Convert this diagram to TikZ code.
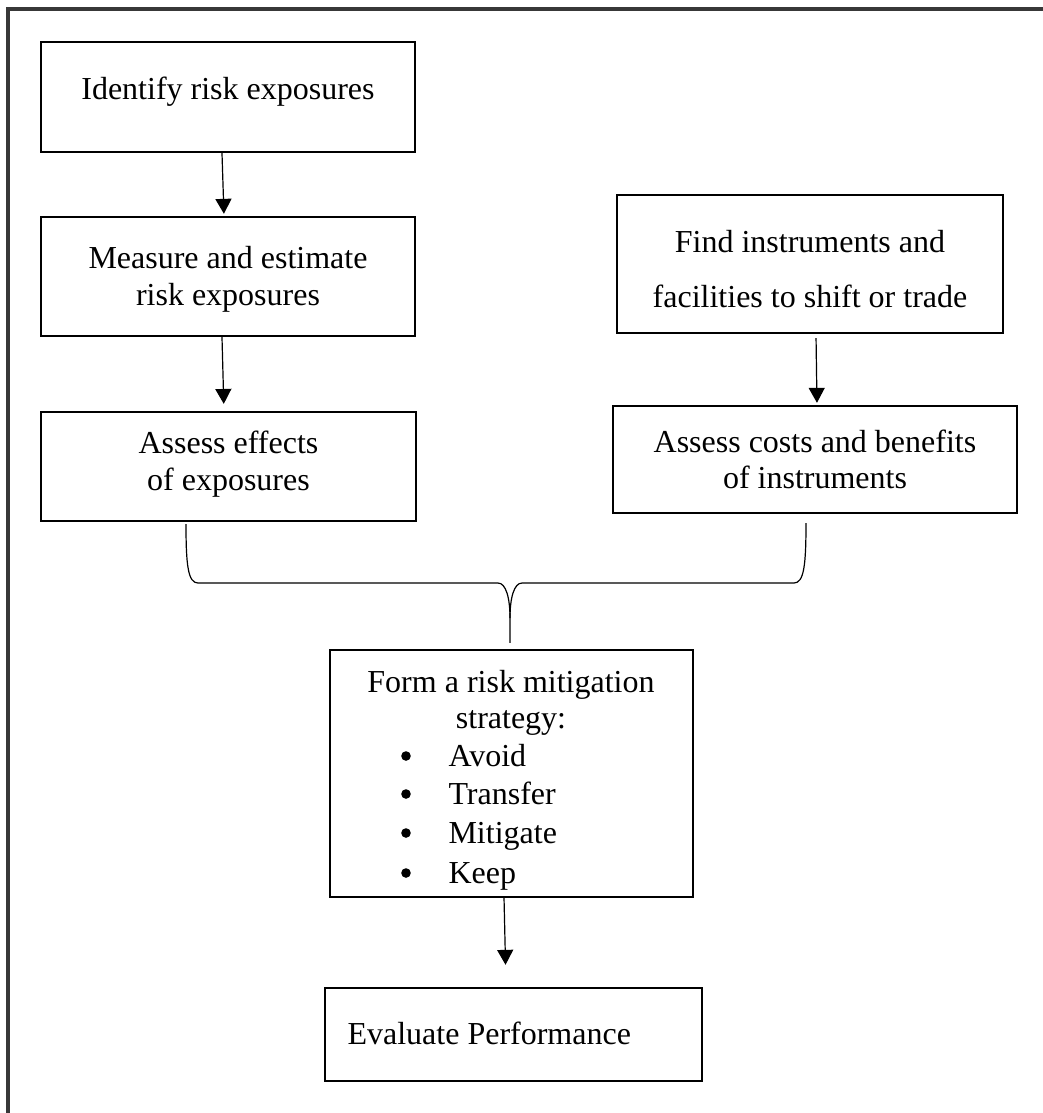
\documentclass[tikz,border=0pt]{standalone}
\usepackage{fontspec}
\setmainfont{Liberation Serif}
\usetikzlibrary{arrows.meta,calc}
\begin{document}
\begin{tikzpicture}[x=0.375pt,y=-0.375pt,
  box/.style={draw=black, line width=0.9pt, inner sep=0pt, fill=none},
  txt/.style={anchor=base, inner sep=0pt, font=\fontsize{12pt}{14pt}\selectfont},
  bul/.style={circle, fill=black, inner sep=0pt, minimum size=3.6pt},
  arr/.style={line width=0.45pt, -{Triangle[length=5.6pt,width=6pt]}},
  bracestyle/.style={line width=0.45pt},
  framestyle/.style={line width=1.2pt, draw=black!78}]
\useasboundingbox (0,0) rectangle (1043,1113);
% outer frame
\draw[framestyle] (8,1113) -- (8,9) -- (1043,9);
% boxes
\node[box, minimum width=140.25pt, minimum height=41.25pt] (b1) at (228,97) {};
\node[box, minimum width=140.25pt, minimum height=44.625pt] (b2) at (228,276.5) {};
\node[box, minimum width=140.625pt, minimum height=40.875pt] (b3) at (228.5,466.5) {};
\node[box, minimum width=144.75pt, minimum height=51.75pt] (b4) at (810,264) {};
\node[box, minimum width=151.5pt, minimum height=40.125pt] (b5) at (815,459.5) {};
\node[box, minimum width=136.125pt, minimum height=92.625pt] (b6) at (511.5,773.5) {};
\node[box, minimum width=141.375pt, minimum height=34.875pt] (b7) at (513.5,1034.5) {};
% texts
\node[txt] (t1) at (228,99) {Identify risk exposures};
\node[txt] (t2a) at (228,268) {Measure and estimate};
\node[txt] (t2b) at (228,305) {risk exposures};
\node[txt] (t3a) at (228.5,453) {Assess effects};
\node[txt] (t3b) at (228.5,490) {of exposures};
\node[txt] (t4a) at (810,252) {Find instruments and};
\node[txt] (t4b) at (810,307) {facilities to shift or trade};
\node[txt] (t5a) at (815,452) {Assess costs and benefits};
\node[txt] (t5b) at (815,488) {of instruments};
\node[txt] (t6a) at (511,692) {Form a risk mitigation};
\node[txt] (t6b) at (511,728) {strategy:};
\node[bul] (u1) at (406,756) {};
\node[bul] (u2) at (406,794) {};
\node[bul] (u3) at (406,833) {};
\node[bul] (u4) at (406,873) {};
\node[txt, anchor=base west] (l1) at (448,766) {Avoid};
\node[txt, anchor=base west] (l2) at (448,804) {Transfer};
\node[txt, anchor=base west] (l3) at (448,843) {Mitigate};
\node[txt, anchor=base west] (l4) at (448,883) {Keep};
\node[txt, anchor=base west] (t7) at (347,1044) {Evaluate Performance};
% arrows
\draw[arr, shorten >=0.75pt] ([xshift=-2.25pt]b1.south) -- ([xshift=-1.5pt]b2.north);
\draw[arr, shorten >=2.6pt] ([xshift=-2.25pt]b2.south) -- ([xshift=-1.7pt]b3.north);
\draw[arr, shorten <=1.5pt, shorten >=0.75pt] ([xshift=2.25pt]b4.south) -- ([xshift=0.75pt]b5.north);
\draw[arr, shorten >=8.25pt] ([xshift=-2.8pt]b6.south) -- ([xshift=-2.8pt]b7.north);
% brace joining the two branches
\coordinate (bl) at ($(b3.south)+(-42.5,2)$);
\coordinate (br) at ($(b5.south)+(-9,9)$);
\coordinate (bt) at ($(b6.north)+(-1.5,-6)$);
\coordinate (bm) at (510,618);
\draw[bracestyle] (bl) .. controls (186,565) and (188,583) .. (198,583) -- (498,583)
  .. controls (506,583) and (510,598) .. (bm) -- (bt);
\draw[bracestyle] (br) .. controls (806,565) and (804,583) .. (794,583) -- (522,583)
  .. controls (514,583) and (510,598) .. (bm);
\end{tikzpicture}
\end{document}
